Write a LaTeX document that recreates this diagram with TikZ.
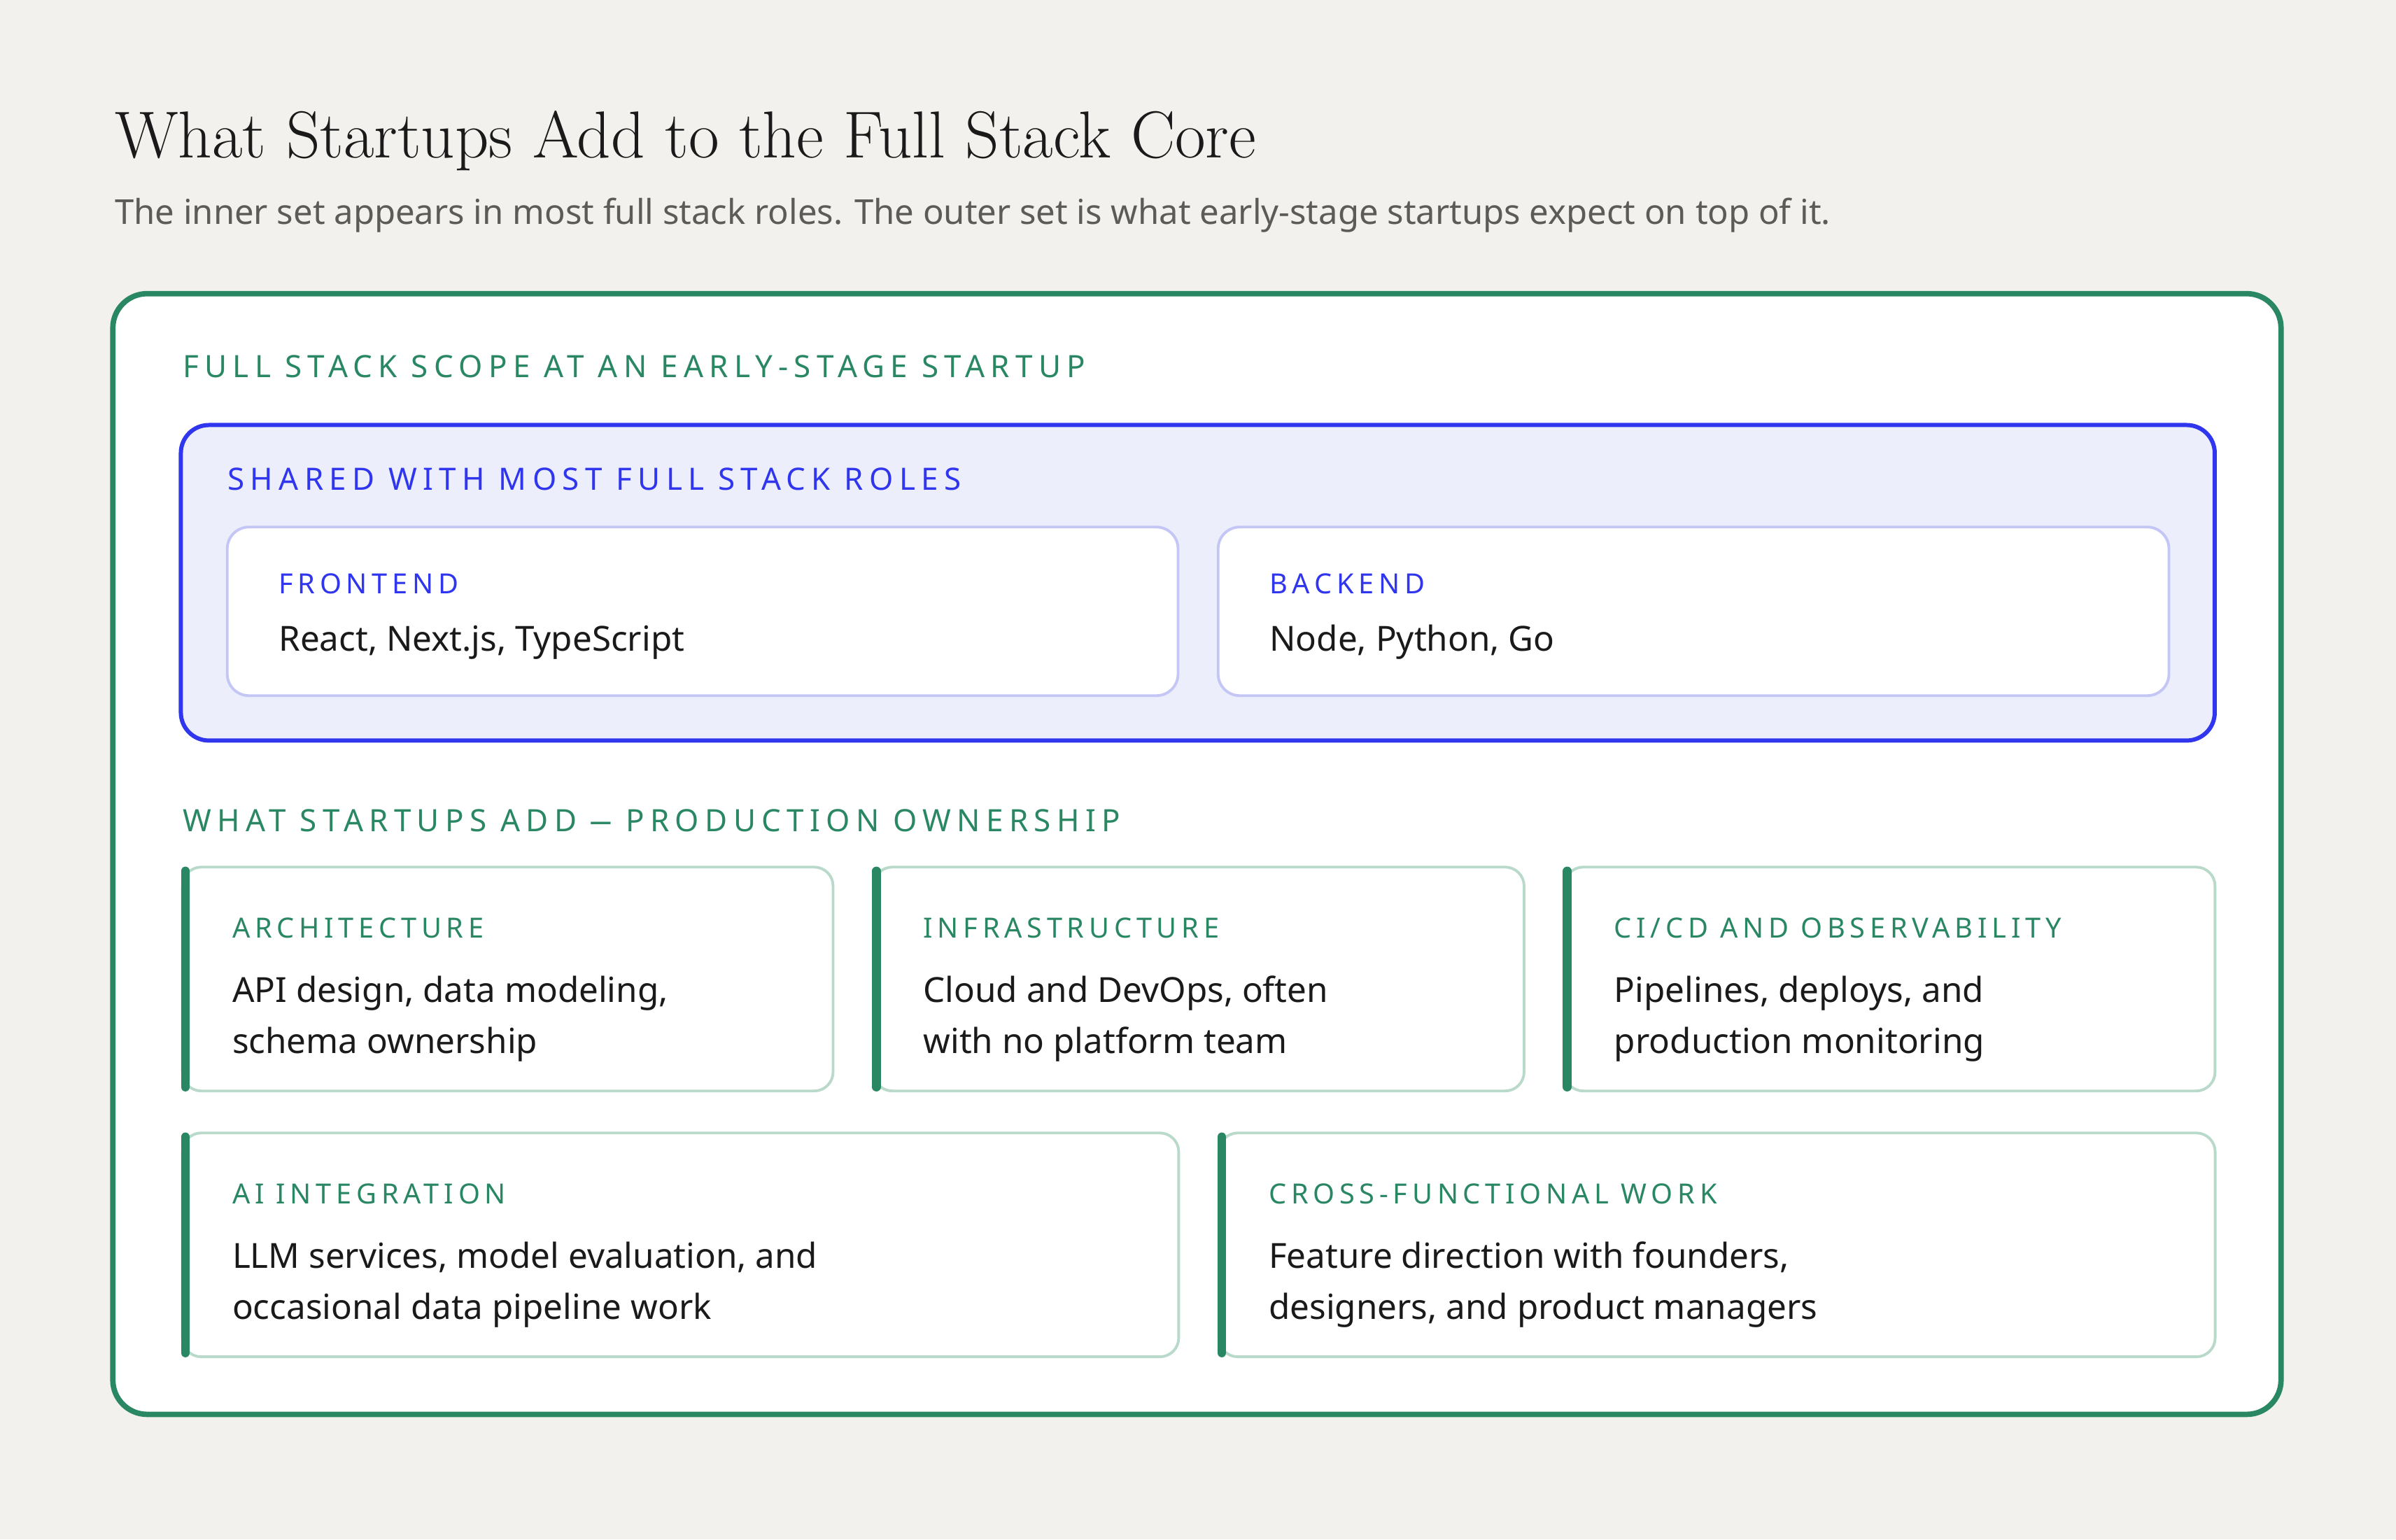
\documentclass[tikz,border=0pt]{standalone}
\usepackage{fontspec}
\usepackage{graphicx}
\setsansfont{Noto Sans}
\newfontfamily\capsfont[LetterSpace=19]{Noto Sans}
\newfontfamily\itemcapsfont[LetterSpace=17]{Noto Sans}
\usetikzlibrary{positioning}

\definecolor{pagebg}{HTML}{F2F1ED}
\definecolor{scopegreen}{HTML}{2A8764}
\definecolor{cardline}{HTML}{B9D9CB}
\definecolor{coreblue}{HTML}{3035EE}
\definecolor{corefill}{HTML}{ECEEFC}
\definecolor{coreline}{HTML}{C4C7F6}
\definecolor{inktext}{HTML}{1A1A1A}
\definecolor{subgray}{HTML}{5C5B57}

% two lines of card text, first baseline on the anchor
\newcommand{\twolines}[2]{\begin{tabular}[t]{@{}l@{}}#1\\#2\end{tabular}}

\begin{document}
\begin{tikzpicture}[x=0.02209cm, y=-0.02209cm]

    % Define block styles
    \tikzstyle{frame} = [rectangle, draw, inner sep = 0pt, outer sep = 0pt,
        anchor = north west]
    \tikzstyle{scope} = [frame, draw = scopegreen, fill = white,
        line width = 2.2pt, rounded corners = 0.49cm]
    \tikzstyle{core} = [frame, draw = coreblue, fill = corefill,
        line width = 1.7pt, rounded corners = 0.40cm]
    \tikzstyle{coreitem} = [frame, draw = coreline, fill = white,
        line width = 1.1pt, rounded corners = 0.31cm]
    \tikzstyle{card} = [frame, draw = cardline, fill = white,
        line width = 1.1pt, rounded corners = 0.27cm]
    \tikzstyle{bar} = [draw = scopegreen, line width = 3.6pt, line cap = round,
        shorten < = 1.6pt, shorten > = 1.6pt]
    \tikzstyle{label} = [inner sep = 0pt, anchor = base west]
    \tikzstyle{head} = [label, font = \capsfont\fontsize{12.5}{14}\selectfont]
    \tikzstyle{itemhead} = [label, font = \itemcapsfont\fontsize{11.3}{13}\selectfont]
    \tikzstyle{body} = [label, text = inktext,
        font = \sffamily\fontsize{14.05}{20.7}\selectfont]

    % Page and headline
    \path [fill = pagebg] (0,0) rectangle (1550,996);
    \node [label, font = \rmfamily\fontsize{27}{30}\selectfont, text = inktext]
        (title) at (74,102) {What Startups Add to the Full Stack Core};
    \node [label, font = \sffamily\fontsize{13.95}{16}\selectfont, text = subgray]
        (subtitle) at (74,145) {The inner set appears in most full stack roles.
        The outer set is what early-stage startups expect on top of it.};

    % Place boxes
    \node [scope, minimum width = 30.99cm, minimum height = 16.02cm]
        (outer) at (73,190) {};
    \node [head, text = scopegreen] (outerhead) at ([shift={(45,54)}]outer.north west)
        {FULL STACK SCOPE AT AN EARLY-STAGE STARTUP};

    \node [core, minimum width = 29.07cm, minimum height = 4.51cm]
        (shared) at (117,275) {};
    \node [head, text = coreblue] (sharedhead) at ([shift={(30,42)}]shared.north west)
        {SHARED WITH MOST FULL STACK ROLES};

    \node [coreitem, minimum width = 13.59cm, minimum height = 2.41cm]
        (front) at (147,341) {};
    \node [coreitem, minimum width = 13.59cm, minimum height = 2.41cm]
        (back) at (788,341) {};

    \node [head, text = scopegreen] (addhead) at (118,538)
        {WHAT STARTUPS ADD \scalebox{0.7}[1]{—} PRODUCTION OWNERSHIP};

    \node [card, minimum width = 9.30cm, minimum height = 3.20cm] (arch) at (118,561) {};
    \node [card, minimum width = 9.30cm, minimum height = 3.20cm] (infra) at (565,561) {};
    \node [card, minimum width = 9.30cm, minimum height = 3.20cm] (cicd) at (1012,561) {};
    \node [card, minimum width = 14.24cm, minimum height = 3.20cm] (ai) at (118,733) {};
    \node [card, minimum width = 14.24cm, minimum height = 3.20cm] (cross) at (788.5,733) {};

    % Accent bars
    \foreach \c in {arch, infra, cicd, ai, cross}
        \draw [bar] ([xshift=1.2pt]\c.north west) -- ([xshift=1.2pt]\c.south west);

    % Place texts
    \node [itemhead, text = coreblue] (fronthead) at ([shift={(33,43)}]front.north west) {FRONTEND};
    \node [body] (fronttext) at ([shift={(33,80)}]front.north west) {React, Next.js, TypeScript};
    \node [itemhead, text = coreblue] (backhead) at ([shift={(33,43)}]back.north west) {BACKEND};
    \node [body] (backtext) at ([shift={(33,80)}]back.north west) {Node, Python, Go};

    \node [itemhead, text = scopegreen] (archhead) at ([shift={(32,46)}]arch.north west) {ARCHITECTURE};
    \node [body] (archtext) at ([shift={(32,87.5)}]arch.north west)
        {\twolines{API design, data modeling,}{schema ownership}};
    \node [itemhead, text = scopegreen] (infrahead) at ([shift={(32,46)}]infra.north west) {INFRASTRUCTURE};
    \node [body] (infratext) at ([shift={(32,87.5)}]infra.north west)
        {\twolines{Cloud and DevOps, often}{with no platform team}};
    \node [itemhead, text = scopegreen] (cicdhead) at ([shift={(32,46)}]cicd.north west) {CI/CD AND OBSERVABILITY};
    \node [body] (cicdtext) at ([shift={(32,87.5)}]cicd.north west)
        {\twolines{Pipelines, deploys, and}{production monitoring}};
    \node [itemhead, text = scopegreen] (aihead) at ([shift={(32,46)}]ai.north west) {AI INTEGRATION};
    \node [body] (aitext) at ([shift={(32,87.5)}]ai.north west)
        {\twolines{LLM services, model evaluation, and}{occasional data pipeline work}};
    \node [itemhead, text = scopegreen] (crosshead) at ([shift={(32,46)}]cross.north west) {CROSS-FUNCTIONAL WORK};
    \node [body] (crosstext) at ([shift={(32,87.5)}]cross.north west)
        {\twolines{Feature direction with founders,}{designers, and product managers}};

\end{tikzpicture}
\end{document}
